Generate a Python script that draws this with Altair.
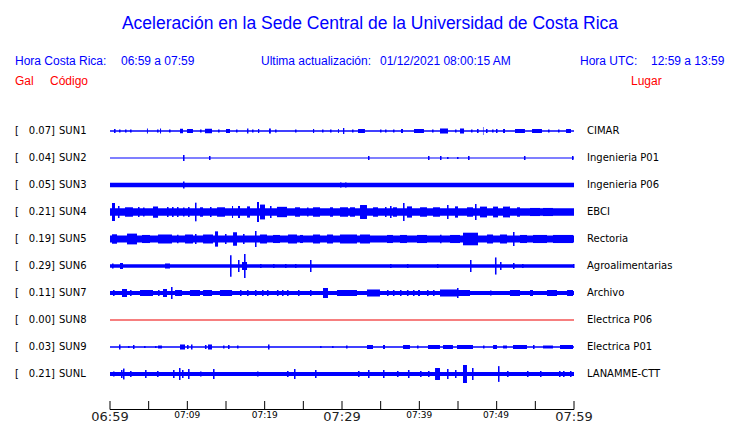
import altair as alt
import pandas as pd

# ---------------- data ----------------
CODES = ["SUN1", "SUN2", "SUN3", "SUN4", "SUN5", "SUN6", "SUN7", "SUN8", "SUN9", "SUNL"]
PEAKS = ["0.07", "0.04", "0.05", "0.21", "0.19", "0.29", "0.11", "0.00", "0.03", "0.21"]
PLACES = ["CIMAR", "Ingenieria P01", "Ingenieria P06", "EBCI", "Rectoria",
          "Agroalimentarias", "Archivo", "Electrica P06", "Electrica P01", "LANAMME-CTT"]
# background noise half-amplitude of each trace (Gal)
BASE = [0.016, 0.013, 0.049, 0.082, 0.076, 0.04, 0.044, 0.011, 0.016, 0.044]
TRACE_COLORS = ["#0000ff"] * 7 + ["#ee0000"] + ["#0000ff"] * 2

# bursts: (minute, half-amplitude Gal) or (start minute, end minute, half-amplitude Gal)
B_SUN1 = [(0.52, .044), (1.16, .033), (1.94, .033), (2.59, .033), (4.78, 4.9, .056), (6.08, .033),
          (6.47, 6.6, .056), (7.63, .033), (9.05, 9.44, .05), (9.96, 10.73, .044), (11.64, .033),
          (12.28, 13.19, .05), (13.97, .033), (15.0, 15.52, .044), (16.29, .033), (17.72, 17.9, .056),
          (18.36, .033), (19.14, 19.3, .044), (20.56, 20.8, .056), (21.34, .033), (23.92, .033),
          (26.25, 26.4, .044), (27.41, .033), (28.45, .033), (29.48, 29.6, .044), (30.13, 30.3, .067),
          (31.29, .033), (32.07, 32.97, .044), (34.91, .033), (35.56, .033), (36.59, .033),
          (37.63, 37.89, .044), (39.31, 40.6, .044), (41.64, .033), (42.67, 43.71, .056), (44.61, .033),
          (45.26, 45.78, .056), (46.68, .033), (47.46, .044), (48.23, 48.3, .089), (48.62, .044),
          (49.4, .033), (49.91, .044), (50.82, 51.08, .044), (52.37, 53.66, .044), (54.57, 55.86, .044),
          (56.64, .033), (57.93, .033), (58.97, 59.61, .044)]
B_SUN2 = [(9.44, .067), (12.8, 13.0, .044), (33.36, .044), (41.12, .044), (42.67, .044), (43.58, .022),
          (44.87, .022), (46.29, 46.5, .044), (53.53, .044), (59.74, .044)]
B_SUN3 = [(9.44, .078), (29.74, .056), (30.39, .056)]
B_SUN4 = [(0.26, 0.65, .2), (1.03, .133), (1.94, 2.97, .105), (3.62, .111), (4.27, .1),
          (5.56, 6.21, .125), (7.37, .111), (8.02, .111), (8.66, .111), (9.44, .1), (10.09, .111),
          (10.99, .207), (11.64, 12.03, .105), (12.93, .111), (13.84, 14.87, .105), (15.78, 15.91, .133),
          (16.55, 16.81, .133), (17.72, 18.1, .125), (19.01, 19.27, .222), (19.4, 20.04, .165),
          (20.69, .133), (21.59, 22.89, .115), (23.92, 24.57, .105), (25.47, .1), (26.25, 27.16, .105),
          (28.45, 28.84, .105), (29.74, 30.78, .105), (31.03, 31.68, .105), (32.33, 33.23, .155),
          (34.01, 34.66, .105), (35.56, .111), (36.21, .133), (36.59, 37.11, .105), (37.89, .2),
          (38.4, 39.05, .125), (40.09, 40.99, .105), (41.77, 42.67, .105), (43.58, .156),
          (44.61, 45.0, .125), (46.16, 46.94, .105), (47.2, .178), (47.84, 48.75, .12),
          (49.53, 50.17, .12), (50.82, 51.72, .12), (52.63, 53.02, .105), (54.31, 55.6, .09),
          (55.99, 57.28, .09)]
B_SUN5 = [(0.26, 0.91, .105), (2.2, 3.49, .12), (4.14, 5.17, .09), (6.21, 8.02, .1), (8.66, .095),
          (9.7, 10.73, .1), (10.99, .111), (12.03, 13.32, .1), (13.58, 13.97, .17), (14.87, .111),
          (15.91, 16.42, .15), (17.2, .111), (18.75, .178), (19.4, 20.3, .1), (21.08, 21.98, .09),
          (23.02, 24.18, .1), (24.57, 24.96, .09), (26.25, 27.16, .1), (28.06, 28.84, .1),
          (29.74, 31.94, .1), (32.33, 33.62, .1), (35.82, 36.59, .09), (37.5, 38.4, .09),
          (39.7, 40.99, .09), (42.67, .095), (43.97, 45.26, .09), (45.65, 47.59, .14),
          (48.75, 49.53, .1), (50.43, 51.34, .1), (52.11, .156), (53.02, 53.92, .09),
          (54.7, 56.51, .09), (57.28, 59.87, .09)]
B_SUN6 = [(0.26, .056), (1.29, 1.68, .067), (7.11, 7.76, .056), (15.52, .24), (16.55, .133),
          (17.07, 17.72, .089), (17.33, .267), (19.4, .044), (21.08, .044), (22.63, .044), (23.92, .044),
          (25.86, .133), (36.21, .044), (38.4, .044), (42.28, .044), (46.55, .133), (49.78, .19),
          (50.43, .089), (52.11, .067), (53.28, .044), (59.87, .044)]
B_SUN7 = [(0.39, .067), (1.55, 2.2, .089), (2.59, .067), (3.88, 5.56, .067), (6.21, .067),
          (6.85, 7.37, .089), (7.89, .133), (8.41, 9.31, .067), (10.34, 11.64, .067), (12.03, 13.19, .067),
          (14.22, 15.78, .067), (16.81, .067), (17.72, .067), (18.75, .067), (19.66, .067), (20.3, .067),
          (21.59, .067), (22.24, .067), (22.89, .067), (24.31, .067), (25.86, .067), (27.54, 28.19, .111),
          (29.35, 31.94, .067), (33.23, 34.91, .078), (35.82, .067), (36.59, .067), (37.5, .067),
          (38.4, .067), (39.18, .067), (39.83, 40.09, .067), (40.99, .067), (41.77, .067),
          (42.67, 44.87, .078), (44.87, .111), (45.0, 46.55, .067), (49.14, .056), (51.72, 53.02, .067),
          (54.31, 54.7, .067), (56.51, 57.8, .067), (59.1, 59.87, .067)]
B_SUN8 = []
B_SUN9 = [(1.16, .056), (2.33, .022), (2.97, .044), (4.4, .022), (5.82, .022), (6.21, 6.72, .033),
          (9.05, 9.7, .056), (9.96, .044), (10.47, .056), (12.28, .044), (12.67, 13.19, .056),
          (14.61, .033), (15.26, .044), (16.42, .033), (20.43, .056), (27.16, .022), (28.71, .022),
          (30.52, .033), (33.23, 34.01, .044), (35.3, 35.56, .044), (37.89, 38.79, .044), (39.7, .033),
          (41.12, 42.67, .044), (43.06, 44.35, .044), (44.87, 46.94, .044), (48.23, .033),
          (49.53, 50.04, .044), (50.82, 51.34, .033), (52.11, 53.92, .044), (54.7, .044),
          (55.99, 57.28, .033), (58.19, 59.87, .044)]
B_SUNL = [(0.39, .056), (1.42, .089), (1.68, .121), (2.59, .067), (4.53, .089), (6.08, .067),
          (8.15, .089), (8.92, .133), (9.31, .089), (10.09, .111), (11.64, .056), (13.32, .111),
          (19.01, .056), (22.89, .067), (23.79, .111), (26.51, .089), (32.07, .067), (33.36, .089),
          (35.3, .089), (37.11, .067), (38.53, .089), (40.09, .067), (41.12, .067), (42.03, 42.67, .133),
          (43.58, .111), (44.61, .089), (45.65, 46.16, .2), (46.81, .133), (50.17, .175), (51.34, .067),
          (53.92, .067), (55.6, .067), (58.06, .067), (58.58, .067), (59.48, .067)]
BURSTS = [B_SUN1, B_SUN2, B_SUN3, B_SUN4, B_SUN5, B_SUN6, B_SUN7, B_SUN8, B_SUN9, B_SUNL]

TICK_MINUTES = list(range(0, 61, 5))
LABEL_MINUTES = [0, 10, 20, 30, 40, 49.9, 60]
LABEL_TEXT = ["06:59", "07:09", "07:19", "07:29", "07:39", "07:49", "07:59"]
LABEL_BIG = [True, False, False, True, False, False, True]

ROW_GAP = 0.6  # Gal between trace baselines

# ---------------- tables ----------------
rows = []
for i, c in enumerate(CODES):
    rows.append(dict(code=c, peak=PEAKS[i] + "]", place=PLACES[i], center=-i * ROW_GAP,
                     lo=-i * ROW_GAP - BASE[i], hi=-i * ROW_GAP + BASE[i],
                     t0=0, t1=60, color=TRACE_COLORS[i]))
rows_df = pd.DataFrame(rows)

bursts = []
for i, lst in enumerate(BURSTS):
    for b in lst:
        if len(b) == 2:
            m0, m1, a = b[0], b[0] + 0.2, b[1]
        else:
            m0, m1, a = b
        bursts.append(dict(m0=m0, m1=m1, lo=-i * ROW_GAP - a, hi=-i * ROW_GAP + a,
                           color=TRACE_COLORS[i]))
bursts_df = pd.DataFrame(bursts)

ticks_df = pd.DataFrame(dict(m=TICK_MINUTES))
labels_df = pd.DataFrame(dict(m=LABEL_MINUTES, text=LABEL_TEXT, big=LABEL_BIG))
axis_df = pd.DataFrame(dict(m0=[0], m1=[60]))

W, H = 464, 293
xs = alt.Scale(domain=[0, 60], nice=False, zero=False)
ys = alt.Scale(domain=[-5.4 - 35 / 45, 15 / 45], nice=False, zero=False)

band = alt.Chart(rows_df).mark_rect().encode(
    x=alt.X("t0:Q", scale=xs, axis=None), x2="t1:Q",
    y=alt.Y("lo:Q", scale=ys, axis=None), y2="hi:Q",
    color=alt.Color("color:N", scale=None))

burst = alt.Chart(bursts_df).mark_rect().encode(
    x=alt.X("m0:Q", scale=xs, axis=None), x2="m1:Q",
    y=alt.Y("lo:Q", scale=ys, axis=None), y2="hi:Q",
    color=alt.Color("color:N", scale=None))

baseline = alt.Chart(axis_df).mark_rule(color="black", strokeWidth=1).encode(
    x=alt.X("m0:Q", scale=xs, axis=None), x2="m1:Q", y=alt.value(H + 0.5))

tick = alt.Chart(ticks_df).mark_rule(color="black", strokeWidth=1).encode(
    x=alt.X("m:Q", scale=xs, axis=None), y=alt.value(H - 8), y2=alt.value(H + 0.5))

big_lab = alt.Chart(labels_df).transform_filter("datum.big").mark_text(
    font="DejaVu Sans", fontSize=13, align="center", baseline="alphabetic", color="#222222").encode(
    x=alt.X("m:Q", scale=xs, axis=None), y=alt.value(H + 11.5), text="text:N")
small_lab = alt.Chart(labels_df).transform_filter("!datum.big").mark_text(
    font="DejaVu Sans", fontSize=9, align="center", baseline="alphabetic", color="black").encode(
    x=alt.X("m:Q", scale=xs, axis=None), y=alt.value(H + 8.7), text="text:N")

def row_text(field, xpix, align):
    return alt.Chart(rows_df).mark_text(
        font="DejaVu Sans", fontSize=10, align=align, baseline="middle", color="black").encode(
        x=alt.value(xpix), y=alt.Y("center:Q", scale=ys, axis=None), text=field)

lbr = alt.Chart(rows_df).mark_text(
    font="DejaVu Sans", fontSize=10, align="left", baseline="middle", color="black", text="[").encode(
    x=alt.value(-95), y=alt.Y("center:Q", scale=ys, axis=None))
peak = row_text("peak:N", -55, "right")
code = row_text("code:N", -51, "left")
place = row_text("place:N", 477, "left")

def label(txt, xpix, ypix, color, size, align="left", font="Liberation Sans"):
    return alt.Chart(axis_df).mark_text(
        font=font, fontSize=size, align=align, baseline="alphabetic", color=color, text=txt).encode(
        x=alt.value(xpix), y=alt.value(ypix))

BLUE = "#0000ff"
RED = "#ff0000"
headers = [
    label("Aceleración en la Sede Central de la Universidad de Costa Rica", 260, -87, BLUE, 17.5, "center"),
    label("Hora Costa Rica:", -95, -51, BLUE, 12),
    label("06:59 a 07:59", 11, -51, BLUE, 12),
    label("Ultima actualización:", 151, -51, BLUE, 12),
    label("01/12/2021 08:00:15 AM", 270, -51, BLUE, 12),
    label("Hora UTC:", 470, -51, BLUE, 12),
    label("12:59 a 13:59", 541, -51, BLUE, 12),
    label("Gal", -95, -31, RED, 12),
    label("Código", -60, -31, RED, 12),
    label("Lugar", 521, -31, RED, 12),
]

chart = alt.layer(band, burst, baseline, tick, big_lab, small_lab, lbr, peak, code, place, *headers).properties(
    width=W, height=H,
    autosize=alt.AutoSizeParams(type="none"),
    padding={"left": 102, "top": 108, "right": 158, "bottom": 14},
    background="white",
).configure_view(stroke=None)

chart.save("out.html", embed_options={"renderer": "svg", "actions": False})
